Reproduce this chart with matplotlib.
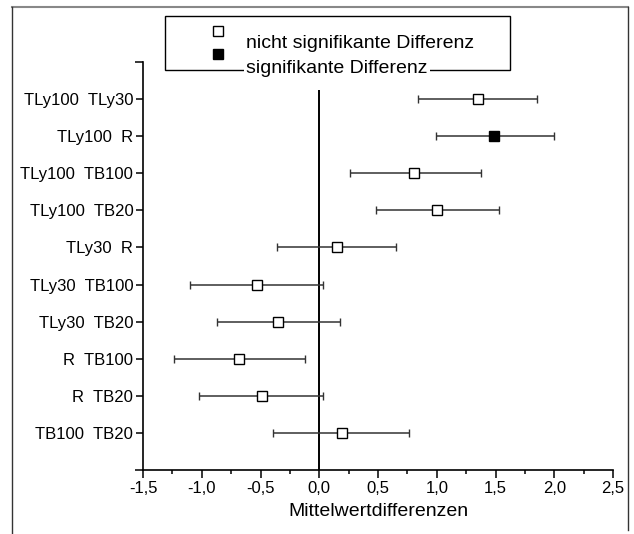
import matplotlib

matplotlib.use("Agg")
import matplotlib.pyplot as plt
from matplotlib.lines import Line2D
from matplotlib.patches import Rectangle
from matplotlib.ticker import MultipleLocator, FixedLocator

plt.rcParams["font.family"] = ["Liberation Sans", "DejaVu Sans"]

# pairwise comparisons, top to bottom
labels = ["TLy100  TLy30", "TLy100  R", "TLy100  TB100", "TLy100  TB20", "TLy30  R",
          "TLy30  TB100", "TLy30  TB20", "R  TB100", "R  TB20", "TB100  TB20"]
means = [1.35, 1.49, 0.81, 1.00, 0.15, -0.53, -0.35, -0.68, -0.49, 0.19]
lower = [0.84, 0.99, 0.26, 0.48, -0.36, -1.10, -0.87, -1.24, -1.02, -0.39]
upper = [1.85, 2.00, 1.38, 1.53, 0.65, 0.03, 0.18, -0.12, 0.03, 0.76]
significant = [False, True, False, False, False, False, False, False, False, False]

W, H = 634, 534
fig = plt.figure(figsize=(W / 100, H / 100), dpi=100)
ax = fig.add_axes([143 / W, 1 - 470 / H, (613 - 143) / W, (470 - 62) / H])

pos = list(range(1, len(labels) + 1))
for y, m, lo, hi, sig in zip(pos, means, lower, upper, significant):
    ax.errorbar(m, y, xerr=[[m - lo], [hi - m]], fmt="s", ms=7,
                mfc="black" if sig else "white", mec="black", mew=1.0,
                ecolor="#333333", elinewidth=1.1, capsize=3, capthick=1.1, zorder=3)

ax.vlines(0, 0.75, 11, color="black", lw=1.4, zorder=2)

ax.set_xlim(-1.5, 2.5)
ax.set_ylim(11, 0)
ax.xaxis.set_major_locator(MultipleLocator(0.5))
ax.xaxis.set_minor_locator(MultipleLocator(0.25))
ax.set_xticklabels([f"{v:.1f}".replace(".", ",") for v in ax.get_xticks()])
ax.set_yticks(pos)
ax.set_yticklabels(labels)
ax.yaxis.set_minor_locator(FixedLocator([0, 11]))
ax.tick_params(axis="both", which="major", direction="out", width=1.1, labelsize=12, pad=2)
ax.tick_params(axis="x", which="major", length=6)
ax.tick_params(axis="y", which="major", length=5)
ax.tick_params(axis="x", which="minor", length=3, width=1.1)
ax.tick_params(axis="y", which="minor", length=6, width=1.1)
for side in ("top", "right"):
    ax.spines[side].set_visible(False)
for side in ("left", "bottom"):
    ax.spines[side].set_linewidth(1.2)
ax.set_xlabel("Mittelwertdifferenzen", fontsize=14, labelpad=5)


def fx(px):
    return px / W


def fy(py):
    return 1 - py / H


# outer frame
fig.add_artist(Line2D([fx(12), fx(628)], [fy(7), fy(7)], color="#888888", lw=1.5))
fig.add_artist(Line2D([fx(12), fx(12)], [fy(7), 0], color="#333333", lw=1))
fig.add_artist(Line2D([fx(628), fx(628)], [fy(7), fy(530)], color="#333333", lw=1))

# legend box (as in the original, texts are shifted against the markers)
fig.add_artist(Rectangle((fx(165), fy(70)), fx(510) - fx(165), fy(16) - fy(70),
                         fill=False, ec="black", lw=1))
fig.add_artist(Line2D([fx(218)], [fy(31)], marker="s", ms=6.5, mfc="white", mec="black", mew=1))
fig.add_artist(Line2D([fx(218)], [fy(54)], marker="s", ms=6.5, mfc="black", mec="black", mew=1))
fig.text(fx(246), fy(48), "nicht signifikante Differenz", fontsize=14, va="baseline")
fig.text(fx(246), fy(73), "signifikante Differenz", fontsize=14, va="baseline",
         bbox=dict(fc="white", ec="none", pad=1.5))

fig.savefig("out.png", dpi=100)
